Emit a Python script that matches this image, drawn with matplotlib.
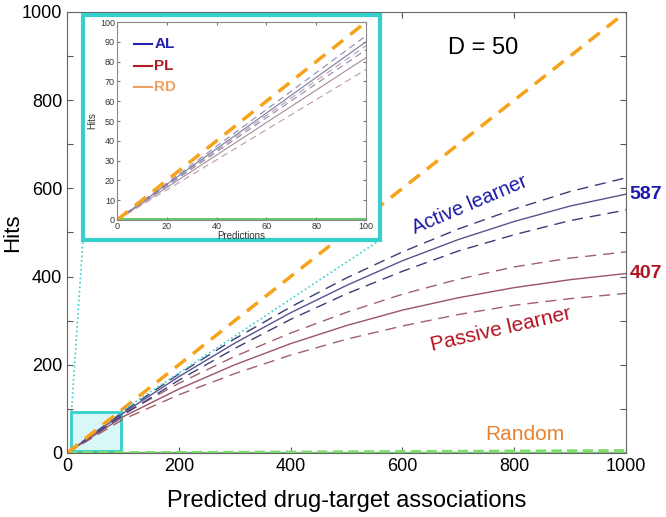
import numpy as np
import matplotlib.pyplot as plt
from matplotlib.patches import Rectangle
from matplotlib.lines import Line2D

plt.rcParams['font.family'] = ['Liberation Sans', 'DejaVu Sans']

# predictions (x) and hits for each learner
preds = [0, 100, 200, 300, 400, 500, 600, 700, 800, 900, 1000]
al_mean = [0, 90, 173, 249, 318, 380, 436, 484, 525, 560, 587]
al_hi = [0, 93, 179, 259, 331, 397, 456, 508, 553, 593, 624]
al_lo = [0, 86, 165, 237, 303, 361, 412, 458, 495, 527, 551]
pl_mean = [0, 82, 145, 200, 248, 289, 324, 352, 375, 393, 407]
pl_hi = [0, 88, 158, 219, 272, 319, 360, 394, 422, 442, 456]
pl_lo = [0, 76, 132, 180, 222, 258, 288, 314, 335, 350, 362]
rd_x = [0, 1000]
rd_y = [0, 1000]
rand_x = [0, 300, 1000]
rand_y = [1, 1, 1]
rand_hi = [0, 1, 5]

# zoomed inset (first 100 predictions)
ins_x = [0, 100]
ins_al = [[0, 90], [0, 93], [0, 86]]
ins_pl = [[0, 82], [0, 88], [0, 76]]
ins_rd = [0, 100]

C_AL = '#55558f'
C_ALD = '#3c3c78'
C_PL = '#9a5466'
C_PLD = '#a0606e'
C_RD = '#f7a21b'
C_CY = '#35d0cc'
C_GR = '#4cc04c'

fig = plt.figure(figsize=(6.66, 5.17), dpi=100)
ax = fig.add_axes([0.1006, 0.1238, 0.8394, 0.853])

ax.plot(rand_x, rand_y, color=C_GR, lw=1.2)
ax.plot(rand_x, rand_hi, color='#7fdc6f', lw=2.5, ls=(0, (3, 1.5)))
ax.plot(preds, pl_hi, color=C_PLD, lw=1, ls=(0, (8, 5)))
ax.plot(preds, pl_lo, color=C_PLD, lw=1, ls=(0, (8, 5)))
ax.plot(preds, pl_mean, color=C_PL, lw=1)
ax.plot(preds, al_hi, color=C_ALD, lw=1, ls=(0, (8, 5)))
ax.plot(preds, al_lo, color=C_ALD, lw=1, ls=(0, (8, 5)))
ax.plot(preds, al_mean, color=C_AL, lw=1)
ax.plot(rd_x, rd_y, color=C_RD, lw=2.5, ls=(0, (4, 2.6)))

ax.set_xlim(0, 1000)
ax.set_ylim(0, 1000)
ax.set_xticks(range(0, 1001, 200))
ax.set_xticklabels(['0', '200', '400', '600', '800', '1000'], fontsize=13)
ax.set_yticks(range(0, 1001, 100))
ax.set_yticklabels([str(v) if v % 200 == 0 else '' for v in range(0, 1001, 100)],
                   fontsize=13)
ax.tick_params(direction='in', top=True, right=True, length=4, color='#555555')
for s in ax.spines.values():
    s.set_color('#666666')
ax.set_xlabel('Predicted drug-target associations', fontsize=17, labelpad=11)
ax.set_ylabel('Hits', fontsize=16)
ax.yaxis.set_label_coords(-0.078, 0.5)

ax.text(744, 918, 'D = 50', fontsize=17, ha='center', va='center')
ax.text(721, 562, 'Active learner', fontsize=14.5, color='#1a1aa8',
        rotation=23, ha='center', va='center')
ax.text(776, 279, 'Passive learner', fontsize=15, color='#b3111f',
        rotation=13, ha='center', va='center')
ax.text(819, 43, 'Random', fontsize=15, color='#e8822f', ha='center', va='center')
ax.text(1006, 587, '587', fontsize=14, color='#1a1ab0', fontweight='bold',
        va='center', ha='left', clip_on=False)
ax.text(1006, 407, '407', fontsize=14, color='#b3111f', fontweight='bold',
        va='center', ha='left', clip_on=False)

# small zoom box in the main axes
ax.add_patch(Rectangle((8, 4), 88, 90, facecolor='#d9f7f7', edgecolor=C_CY,
                       lw=2, zorder=0.5))

# inset frame and connector lines (figure coordinates)
fl, fr, fb, ft = 0.1246, 0.5706, 0.5358, 0.971
fig.patches.append(Rectangle((fl, fb), fr - fl, ft - fb, transform=fig.transFigure,
                             facecolor='white', edgecolor=C_CY, lw=3, zorder=3))
to_fig = ax.transData + fig.transFigure.inverted()
p1 = to_fig.transform((8, 94))
p2 = to_fig.transform((96, 94))
fig.lines.append(Line2D([p1[0], fl], [p1[1], fb], transform=fig.transFigure,
                        color=C_CY, lw=1.2, ls=':', zorder=2))
fig.lines.append(Line2D([p2[0], fr], [p2[1], fb], transform=fig.transFigure,
                        color=C_CY, lw=1.2, ls=':', zorder=2))

ins = fig.add_axes([0.1757, 0.5745, 0.3738, 0.3829], zorder=4)
ins.plot(ins_x, [0.5, 0.5], color=C_GR, lw=1.2)
for ys in ins_pl[1:]:
    ins.plot(ins_x, ys, color='#c09aa6', lw=0.8, ls=(0, (6, 4)))
ins.plot(ins_x, ins_pl[0], color='#a88a98', lw=0.8)
for ys in ins_al[1:]:
    ins.plot(ins_x, ys, color='#8a8ab0', lw=0.8, ls=(0, (6, 4)))
ins.plot(ins_x, ins_al[0], color='#7a7aa0', lw=0.8)
ins.plot(ins_x, ins_rd, color=C_RD, lw=2.5, ls=(0, (4, 2.6)))
ins.set_xlim(0, 100)
ins.set_ylim(0, 100)
ins.set_xticks(range(0, 101, 20))
ins.set_yticks(range(0, 101, 10))
ins.tick_params(direction='in', top=True, right=True, length=2.5, labelsize=6.5,
                pad=1.5, color='#777777', labelcolor='#333333')
for s in ins.spines.values():
    s.set_color('#888888')
ins.set_xlabel('Predictions', fontsize=7, labelpad=0, color='#333333')
ins.set_ylabel('Hits', fontsize=7, labelpad=2, color='#333333')

# inset legend
for i, (lab, col) in enumerate([('AL', '#2222aa'), ('PL', '#b01c22'), ('RD', '#f0a060')]):
    yy = 89 - i * 11
    ins.plot([7, 14], [yy, yy], color=col, lw=1.5)
    ins.text(15, yy, lab, color=col, fontsize=11, fontweight='bold', va='center')

fig.savefig('out.png', dpi=100)
